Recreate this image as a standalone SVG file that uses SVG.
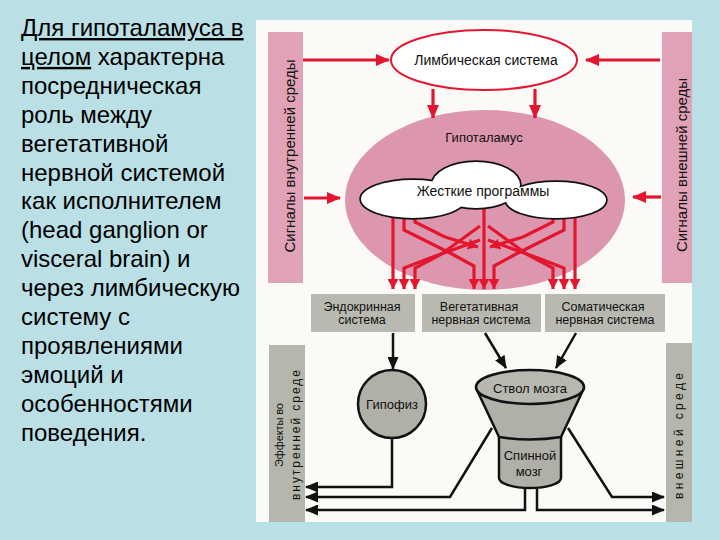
<svg xmlns="http://www.w3.org/2000/svg" width="720" height="540" viewBox="0 0 720 540">
<defs>
<marker id="ra" markerUnits="userSpaceOnUse" markerWidth="14" markerHeight="12" refX="13" refY="6" orient="auto"><path d="M0,0 L14,6 L0,12 z" fill="#e3162f"/></marker>
<marker id="rs" markerUnits="userSpaceOnUse" markerWidth="10" markerHeight="11" refX="10" refY="5.5" orient="auto"><path d="M0,0 L10,5.5 L0,11 z" fill="#e3162f"/></marker>
<marker id="ba" markerUnits="userSpaceOnUse" markerWidth="13" markerHeight="11" refX="12" refY="5.5" orient="auto"><path d="M0,0 L13,5.5 L0,11 z" fill="#111"/></marker>
<style>
.lt{font-family:"Liberation Sans",Arial,sans-serif;font-size:24px;fill:#000}
.dl{font-family:"Liberation Sans",Arial,sans-serif;fill:#111;text-anchor:middle;dominant-baseline:central}
.pink{fill:#e0a2b7}
.gray{fill:#b9b9b1}
.red{stroke:#e3162f;stroke-width:3.2;fill:none}
.blk{stroke:#111;stroke-width:2.5;fill:none}
</style>
</defs>
<rect x="0" y="0" width="720" height="540" fill="#badfe4"/>
<g id="caption">
<text class="lt" x="21" y="36"><tspan text-decoration="underline">Для гипоталамуса в</tspan></text>
<text class="lt" x="21" y="64.9"><tspan text-decoration="underline">целом</tspan> характерна</text>
<text class="lt" x="21" y="93.8">посредническая</text>
<text class="lt" x="21" y="122.7">роль между</text>
<text class="lt" x="21" y="151.6">вегетативной</text>
<text class="lt" x="21" y="180.5">нервной системой</text>
<text class="lt" x="21" y="209.4">как исполнителем</text>
<text class="lt" x="21" y="238.3">(head ganglion or</text>
<text class="lt" x="21" y="267.2">visceral brain) и</text>
<text class="lt" x="21" y="296.1">через лимбическую</text>
<text class="lt" x="21" y="325">систему с</text>
<text class="lt" x="21" y="353.9">проявлениями</text>
<text class="lt" x="21" y="382.8">эмоций и</text>
<text class="lt" x="21" y="411.7">особенностями</text>
<text class="lt" x="21" y="440.6">поведения.</text>
</g>
<rect x="256" y="20" width="436" height="502" fill="#fbfaf7"/>
<g id="bar-internal-signals">
<rect class="pink" x="268" y="32" width="35" height="251"/>
<text class="dl" font-size="15" transform="translate(289,156) rotate(-90)">Сигналы внутренней среды</text>
</g>
<g id="bar-external-signals">
<rect class="pink" x="662" y="32" width="30" height="251"/>
<text class="dl" font-size="15" transform="translate(681,165) rotate(-90)">Сигналы внешней среды</text>
</g>
<g id="hypothalamus">
<ellipse cx="485" cy="200" rx="140" ry="90" fill="#dc96ae"/>
<text class="dl" font-size="13" x="484" y="137">Гипоталамус</text>
</g>
<g id="connectors">
<g class="red">
<path d="M303,60 H389" marker-end="url(#ra)"/>
<path d="M660,60 H586" marker-end="url(#ra)"/>
<path d="M433,89 V118" marker-end="url(#ra)"/>
<path d="M535,89 V118" marker-end="url(#ra)"/>
<path d="M304,198 H340" marker-end="url(#ra)"/>
<path d="M661,197 H633" marker-end="url(#ra)"/>
<g id="fan-left">
<path d="M393,200 V289" marker-end="url(#rs)"/>
<path d="M404,200 V230 L452,254 L474,266 V289" marker-end="url(#rs)"/>
<path d="M415,200 V222 L445,237 L478,247" marker-end="url(#rs)"/>
<path d="M480,226 L440,255 L415,268 V289" marker-end="url(#rs)"/>
<path d="M480,240 L430,258 L404,268 V289" marker-end="url(#rs)"/>
</g>
<use href="#fan-left" transform="translate(968,0) scale(-1,1)"/>
<path d="M484,200 V289" marker-end="url(#rs)"/>
</g>
<g class="blk">
<path d="M393,333 V369" marker-end="url(#ba)"/>
<path d="M485,333 L506,368" marker-end="url(#ba)"/>
<path d="M576,333 L556,368" marker-end="url(#ba)"/>
<path d="M392,438 V487 H306" marker-end="url(#ba)"/>
<path d="M492,428 L450,497 H306" marker-end="url(#ba)"/>
<path d="M525,486 V510 H306" marker-end="url(#ba)"/>
<path d="M537,486 V510 H664" marker-end="url(#ba)"/>
<path d="M568,428 L612,497 H664" marker-end="url(#ba)"/>
</g>
</g>
<g id="limbic-system">
<ellipse cx="484" cy="60" rx="93" ry="30" fill="#fff" stroke="#e3162f" stroke-width="2"/>
<text class="dl" font-size="14" x="486" y="60">Лимбическая система</text>
</g>
<g id="rigid-programs">
<g stroke="#111" stroke-width="3.4" fill="#fff">
<ellipse cx="413" cy="199" rx="52" ry="19"/>
<ellipse cx="476" cy="185" rx="44" ry="23"/>
<ellipse cx="556" cy="200" rx="50" ry="18"/>
</g>
<g fill="#fff">
<ellipse cx="413" cy="199" rx="52" ry="19"/>
<ellipse cx="476" cy="185" rx="44" ry="23"/>
<ellipse cx="556" cy="200" rx="50" ry="18"/>
</g>
<text class="dl" font-size="14" x="483" y="191">Жесткие программы</text>
</g>
<g id="endocrine">
<rect class="gray" x="311" y="294" width="104" height="38"/>
<text class="dl" font-size="12.5" x="362" y="307">Эндокринная</text>
<text class="dl" font-size="12.5" x="362" y="320">система</text>
</g>
<g id="vegetative">
<rect class="gray" x="422" y="294" width="119" height="38"/>
<text class="dl" font-size="12.5" x="479" y="307">Вегетативная</text>
<text class="dl" font-size="12.5" x="481" y="320">нервная система</text>
</g>
<g id="somatic">
<rect class="gray" x="545" y="294" width="120" height="38"/>
<text class="dl" font-size="12.5" x="603" y="307">Соматическая</text>
<text class="dl" font-size="12.5" x="605" y="320">нервная система</text>
</g>
<g id="hypophysis">
<circle cx="392" cy="404" r="34" fill="#b0b0a8" stroke="#111" stroke-width="2.5"/>
<text class="dl" font-size="13" x="392" y="404">Гипофиз</text>
</g>
<g id="brainstem-spinal-cord">
<path d="M499,437 V478 A31,10 0 0 0 561,478 V437" fill="#b0b0a8" stroke="#111" stroke-width="2.5"/>
<path d="M476,388 L499,437 Q530,442 561,437 L584,388 Z" fill="#b0b0a8" stroke="#111" stroke-width="2.5" stroke-linejoin="round"/>
<ellipse cx="530" cy="387" rx="54" ry="17" fill="#b8b8b0" stroke="#111" stroke-width="2.5"/>
<text class="dl" font-size="13" x="530" y="388">Ствол мозга</text>
<text class="dl" font-size="13" x="530" y="455">Спинной</text>
<text class="dl" font-size="13" x="529" y="471">мозг</text>
</g>
<g id="bar-internal-effects">
<rect x="269" y="345" width="36" height="177" fill="#b6b6ae"/>
<text class="dl" font-size="11" textLength="64" transform="translate(279,435) rotate(-90)">Эффекты во</text>
<text class="dl" font-size="12" textLength="130" transform="translate(296,435) rotate(-90)">внутренней среде</text>
</g>
<g id="bar-external-effects">
<rect x="666" y="343" width="26" height="179" fill="#b6b6ae"/>
<text class="dl" font-size="12" textLength="126" transform="translate(679,436) rotate(-90)">внешней среде</text>
</g>
</svg>
